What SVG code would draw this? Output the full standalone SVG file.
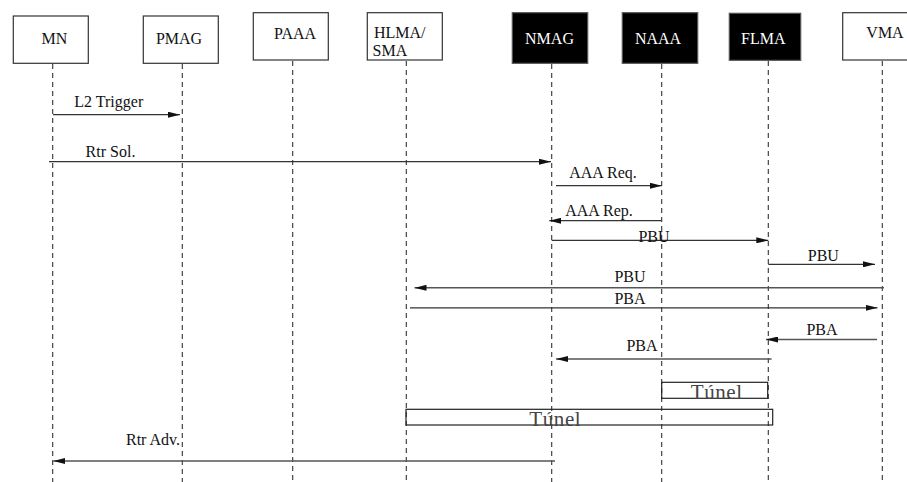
<svg xmlns="http://www.w3.org/2000/svg" width="907" height="482" viewBox="0 0 907 482">
  <style>
    .box { fill: #ffffff; stroke: #333333; stroke-width: 1.2; }
    .dark { fill: #000000; stroke: #555555; stroke-width: 1.2; }
    .lbl { font-family: "Liberation Serif", "Times New Roman", serif; font-size: 16px; fill: #111111; }
    .lbl-w { font-family: "Liberation Serif", "Times New Roman", serif; font-size: 16px; fill: #ffffff; }
    .life { stroke: #333333; stroke-width: 1.1; stroke-dasharray: 5 4; fill: none; }
    .msg { stroke: #333333; stroke-width: 1.2; fill: none; marker-end: url(#ah); }
    .msg-g { stroke: #555555; stroke-width: 1.6; fill: none; marker-end: url(#ah); }
    .tun { fill: none; stroke: #222222; stroke-width: 1.2; }
    .tun-t { font-family: "Liberation Serif", "Times New Roman", serif; font-size: 21px; letter-spacing: 0.6px; fill: #444444; }
  </style>
  <defs>
    <marker id="ah" viewBox="0 0 12 6" refX="12" refY="3" markerWidth="12" markerHeight="6" orient="auto" markerUnits="userSpaceOnUse">
      <path d="M0,0 L12,3 L0,6 z" fill="#111111"/>
    </marker>
  </defs>

  <rect width="907" height="482" fill="#ffffff"/>

  <!-- lifelines -->
  <g id="lifelines">
    <line class="life" x1="52.7" y1="64" x2="52.7" y2="482"/>
    <line class="life" x1="182.3" y1="64" x2="182.3" y2="482"/>
    <line class="life" x1="292.7" y1="61" x2="292.7" y2="482"/>
    <line class="life" x1="406.3" y1="61" x2="406.3" y2="482"/>
    <line class="life" x1="551.7" y1="64" x2="551.7" y2="482"/>
    <line class="life" x1="661.7" y1="64" x2="661.7" y2="482"/>
    <line class="life" x1="768.3" y1="61" x2="768.3" y2="482"/>
    <line class="life" x1="882.3" y1="61" x2="882.3" y2="482"/>
  </g>

  <!-- participants -->
  <g id="MN">
    <rect class="box" x="13.3" y="16" width="75" height="47.3"/>
    <text class="lbl" x="54.3" y="44" text-anchor="middle">MN</text>
  </g>
  <g id="PMAG">
    <rect class="box" x="143.3" y="16" width="75" height="47.3"/>
    <text class="lbl" x="179" y="44" text-anchor="middle">PMAG</text>
  </g>
  <g id="PAAA">
    <rect class="box" x="253.3" y="12.7" width="75" height="47.3"/>
    <text class="lbl" x="295" y="39" text-anchor="middle">PAAA</text>
  </g>
  <g id="HLMA-SMA">
    <rect class="box" x="367.3" y="12.7" width="75" height="47.3"/>
    <text class="lbl" x="374" y="37.7">HLMA/</text>
    <text class="lbl" x="372.5" y="55.7">SMA</text>
  </g>
  <g id="NMAG">
    <rect class="dark" x="512.3" y="12.7" width="75.4" height="50.6"/>
    <text class="lbl-w" x="549.5" y="44" text-anchor="middle">NMAG</text>
  </g>
  <g id="NAAA">
    <rect class="dark" x="622.3" y="12.7" width="75.4" height="50.6"/>
    <text class="lbl-w" x="658" y="44" text-anchor="middle">NAAA</text>
  </g>
  <g id="FLMA">
    <rect class="dark" x="729.3" y="13.3" width="71.4" height="47"/>
    <text class="lbl-w" x="763.3" y="44" text-anchor="middle">FLMA</text>
  </g>
  <g id="VMA">
    <rect class="box" x="842.7" y="12.7" width="75" height="47.3"/>
    <text class="lbl" x="885" y="37.7" text-anchor="middle">VMA</text>
  </g>

  <!-- messages -->
  <g id="connectors">
    <line class="msg" x1="53" y1="114.7" x2="180" y2="114.7"/>
    <text class="lbl" x="108.8" y="106.7" text-anchor="middle">L2 Trigger</text>

    <line class="msg" x1="49" y1="161.7" x2="551" y2="161.7"/>
    <text class="lbl" x="110.5" y="157.3" text-anchor="middle">Rtr Sol.</text>

    <line class="msg" x1="556" y1="185.7" x2="661.7" y2="185.7"/>
    <text class="lbl" x="603" y="178.3" text-anchor="middle">AAA Req.</text>

    <line class="msg" x1="661.7" y1="220.7" x2="549.3" y2="220.7"/>
    <text class="lbl" x="599" y="216" text-anchor="middle">AAA Rep.</text>

    <line class="msg" x1="551.7" y1="240.3" x2="768.3" y2="240.3"/>
    <text class="lbl" x="654" y="242" text-anchor="middle">PBU</text>

    <line class="msg" x1="768.3" y1="264.3" x2="875" y2="264.3"/>
    <text class="lbl" x="823.3" y="261" text-anchor="middle">PBU</text>

    <line class="msg-g" x1="884" y1="287.8" x2="414.5" y2="287.8"/>
    <text class="lbl" x="630" y="281.7" text-anchor="middle">PBU</text>

    <line class="msg" x1="410" y1="307.8" x2="877.5" y2="307.8"/>
    <text class="lbl" x="630" y="303.5" text-anchor="middle">PBA</text>

    <line class="msg-g" x1="877" y1="339.5" x2="766" y2="339.5"/>
    <text class="lbl" x="822" y="334.5" text-anchor="middle">PBA</text>

    <line class="msg-g" x1="771.6" y1="359" x2="556" y2="359"/>
    <text class="lbl" x="642" y="351" text-anchor="middle">PBA</text>

    <line class="msg-g" x1="555" y1="461" x2="53.3" y2="461"/>
    <text class="lbl" x="153" y="445" text-anchor="middle">Rtr Adv.</text>
  </g>

  <!-- tunnels -->
  <g id="tunnel-small">
    <rect class="tun" x="661.7" y="382.3" width="106" height="16"/>
    <text class="tun-t" x="716.7" y="399.3" text-anchor="middle">Túnel</text>
  </g>
  <g id="tunnel-large">
    <rect class="tun" x="406" y="409.3" width="366.7" height="15.7"/>
    <text class="tun-t" x="555.3" y="425.5" text-anchor="middle">Túnel</text>
  </g>
</svg>
